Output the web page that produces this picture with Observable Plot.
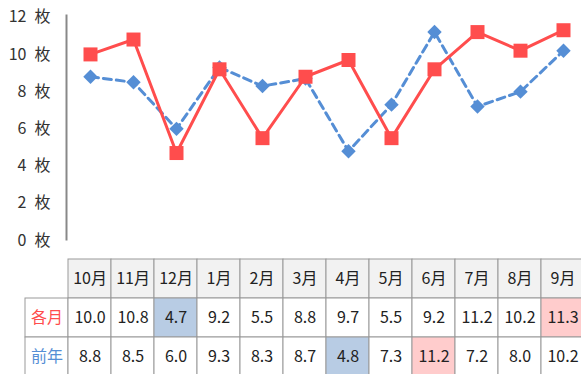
<!DOCTYPE html>
<html>
<head>
<meta charset="utf-8">
<script src="https://cdn.jsdelivr.net/npm/d3@7"></script>
<script src="https://cdn.jsdelivr.net/npm/@observablehq/plot@0.6"></script>
<style>
  html, body { margin: 0; padding: 0; background: #fff; }
  #chart svg, #table svg { display: block; }
  body { font-family: "Noto Sans CJK JP", "Noto Sans", sans-serif; }
</style>
</head>
<body>
<div id="chart"></div>
<div id="table"></div>
<script>
const months = ["10月","11月","12月","1月","2月","3月","4月","5月","6月","7月","8月","9月"];
const current = [10.0, 10.8, 4.7, 9.2, 5.5, 8.8, 9.7, 5.5, 9.2, 11.2, 10.2, 11.3];
const previous = [8.8, 8.5, 6.0, 9.3, 8.3, 8.7, 4.8, 7.3, 11.2, 7.2, 8.0, 10.2];
const seriesNames = ["各月", "前年"];
const yTicks = [0, 2, 4, 6, 8, 10, 12];

const RED = "#ff4d4d";
const BLUE = "#558ed5";
const FONT = "Noto Sans CJK JP, Noto Sans, sans-serif";

const curData = months.map((m, i) => ({month: m, value: current[i]}));
const prevData = months.map((m, i) => ({month: m, value: previous[i]}));

const chart = Plot.plot({
  width: 581,
  height: 256,
  marginLeft: 66,
  marginTop: 15,
  marginBottom: 17,
  marginRight: 0,
  style: {fontFamily: FONT, fontSize: "16px", color: "#333"},
  x: {type: "point", domain: months, range: [87.7, 564.7], padding: 0, axis: null},
  y: {domain: [0, 12], range: [240, 16.7], axis: null},
  marks: [
    Plot.frame({anchor: "left", stroke: "#888", strokeWidth: 2}),
    Plot.axisY({ticks: yTicks, tickSize: 0, tickPadding: 16, label: null, tickFormat: d => d + "\u2002枚", fontSize: 16, fill: "#333"}),
    Plot.line(prevData, {x: "month", y: "value", stroke: BLUE, strokeWidth: 3, strokeDasharray: "8,5"}),
    Plot.dot(prevData, {x: "month", y: "value", symbol: "diamond2", r: 6.5, fill: BLUE}),
    Plot.line(curData, {x: "month", y: "value", stroke: RED, strokeWidth: 3}),
    Plot.dot(curData, {x: "month", y: "value", symbol: "square", r: 7.9, fill: RED})
  ]
});
document.getElementById("chart").append(chart);

// Table
const cols = ["label", ...months];
const rows = ["header", ...seriesNames];
const values = [current, previous];
const cells = [];
months.forEach(m => cells.push({col: m, row: "header", text: m, fill: "#f2f2f2", color: "#222"}));
seriesNames.forEach((s, si) => {
  const arr = values[si];
  const mn = d3.min(arr), mx = d3.max(arr);
  cells.push({col: "label", row: s, text: s, fill: "#fff", color: si === 0 ? RED : BLUE});
  months.forEach((m, i) => {
    const v = arr[i];
    const fill = v === mn ? "#b8cce4" : v === mx ? "#ffcccc" : "#fff";
    cells.push({col: m, row: s, text: v.toFixed(1), fill, color: "#222"});
  });
});

const table = Plot.plot({
  width: 581,
  height: 118,
  margin: 0,
  style: {fontFamily: FONT},
  x: {type: "band", domain: cols, range: [22.7, 586], padding: 0, axis: null},
  y: {type: "band", domain: rows, range: [1.5, 120.5], padding: 0, axis: null},
  color: {type: "identity"},
  marks: [
    Plot.cell(cells, {x: "col", y: "row", fill: "fill", stroke: "#999", strokeWidth: 1, inset: 0}),
    Plot.text(cells, {x: "col", y: "row", text: "text", fill: "color", fontSize: 16})
  ]
});
document.getElementById("table").append(table);
</script>
</body>
</html>
